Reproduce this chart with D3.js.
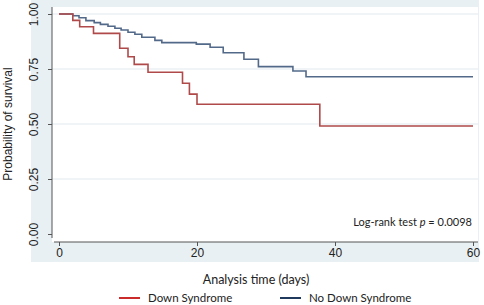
<!DOCTYPE html>
<html>
<head>
<meta charset="utf-8">
<script src="https://cdn.jsdelivr.net/npm/d3@7"></script>
<style>
  body { margin: 0; background: #fff; }
  svg { display: block; }
</style>
</head>
<body>
<div id="chart"></div>
<script>
// Kaplan-Meier step curves
const downTimes = [0, 2.0, 3.0, 5.0, 8.8, 10.0, 10.9, 12.9, 17.9, 18.9, 20.0, 37.8, 60];
const downSurv  = [1, 0.971, 0.942, 0.912, 0.844, 0.806, 0.771, 0.735, 0.685, 0.636, 0.59, 0.491, 0.491];

const noDownTimes = [0, 2.0, 2.9, 3.9, 5.1, 6.0, 7.1, 8.1, 9.0, 10.0, 11.0, 12.0, 13.9, 14.9, 19.9, 21.9, 23.8, 26.8, 28.9, 33.9, 35.8, 60];
const noDownSurv  = [1, 0.992, 0.983, 0.970, 0.961, 0.953, 0.944, 0.935, 0.927, 0.917, 0.908, 0.894, 0.880, 0.870, 0.863, 0.849, 0.824, 0.794, 0.761, 0.741, 0.715, 0.715];

const yTicks = [0, 0.25, 0.5, 0.75, 1];
const xTicks = [0, 20, 40, 60];
const groups = ['Down Syndrome', 'No Down Syndrome'];

const options = { width: 484, height: 305 };

const svg = d3.select('#chart')
  .append('svg')
  .attr('width', options.width)
  .attr('height', options.height);

// outer graph region and plot region
svg.append('rect')
  .attr('x', 31).attr('y', 0)
  .attr('width', 448).attr('height', 262)
  .attr('fill', '#e9f0f3');

svg.append('rect')
  .attr('x', 52).attr('y', 7)
  .attr('width', 426).attr('height', 235)
  .attr('fill', '#fff');

const x = d3.scaleLinear().domain([0, 60]).range([59, 473]);
const y = d3.scaleLinear().domain([0, 1]).range([234, 14]);

// grid lines
svg.append('g')
  .selectAll('line')
  .data(yTicks.filter(d => d > 0))
  .enter()
  .append('line')
  .attr('x1', 52).attr('x2', 478)
  .attr('y1', d => y(d)).attr('y2', d => y(d))
  .attr('stroke', '#e1e9ed')
  .attr('stroke-width', 1);

// y axis
const yAxis = svg.append('g')
  .attr('transform', 'translate(52,0)')
  .call(d3.axisLeft(y).tickValues(yTicks).tickFormat(d3.format('.2f')).tickSize(4).tickPadding(3));
yAxis.select('.domain').attr('d', 'M0,7V238').attr('stroke', '#555');
yAxis.selectAll('.tick line').attr('stroke', '#555');
yAxis.selectAll('.tick text')
  .attr('transform', 'rotate(-90)')
  .attr('x', 0)
  .attr('y', -14)
  .attr('dy', 0)
  .attr('text-anchor', 'middle')
  .attr('font-family', 'Liberation Sans, Arial, sans-serif')
  .attr('font-size', 12)
  .attr('fill', '#222');

// x axis
const xAxis = svg.append('g')
  .attr('transform', 'translate(0,242)')
  .call(d3.axisBottom(x).tickValues(xTicks).tickSize(4).tickPadding(2));
xAxis.select('.domain').attr('d', 'M54,0H478').attr('stroke', '#555');
xAxis.selectAll('.tick line').attr('stroke', '#555');
xAxis.selectAll('.tick text')
  .attr('font-family', 'Liberation Sans, Arial, sans-serif')
  .attr('font-size', 12)
  .attr('fill', '#222');

// axis titles
svg.append('text')
  .text('Probability of survival')
  .attr('transform', 'translate(12,124) rotate(-90)')
  .attr('text-anchor', 'middle')
  .attr('font-family', 'Liberation Sans, Arial, sans-serif')
  .attr('font-size', 12)
  .attr('fill', '#222');

svg.append('text')
  .text('Analysis time (days)')
  .attr('x', 256).attr('y', 284)
  .attr('text-anchor', 'middle')
  .attr('font-family', 'Lato, sans-serif')
  .attr('font-size', 12.5)
  .attr('fill', '#222');

// curves
const line = d3.line()
  .x(d => x(d[0]))
  .y(d => y(d[1]))
  .curve(d3.curveStepAfter);

svg.append('path')
  .attr('d', line(d3.zip(noDownTimes, noDownSurv)))
  .attr('fill', 'none')
  .attr('stroke', '#53698a')
  .attr('stroke-width', 1.6);

svg.append('path')
  .attr('d', line(d3.zip(downTimes, downSurv)))
  .attr('fill', 'none')
  .attr('stroke', '#b04a4a')
  .attr('stroke-width', 1.6);

// annotation
const note = svg.append('text')
  .attr('x', 472).attr('y', 226)
  .attr('text-anchor', 'end')
  .attr('font-family', 'Lato, sans-serif')
  .attr('font-size', 11)
  .attr('fill', '#222');
note.append('tspan').text('Log-rank test ');
note.append('tspan').text('p').attr('font-style', 'italic');
note.append('tspan').text(' = 0.0098');

// legend
const legendX = [119, 280];
const legendColors = ['#cc2b2b', '#1f3a5c'];
const legend = svg.selectAll('.legend')
  .data(groups)
  .enter()
  .append('g')
  .attr('class', 'legend')
  .attr('transform', (d, i) => `translate(${legendX[i]},298)`);

legend.append('line')
  .attr('x1', 0).attr('x2', 21)
  .attr('y1', 0).attr('y2', 0)
  .attr('stroke', (d, i) => legendColors[i])
  .attr('stroke-width', 2);

legend.append('text')
  .text(d => d)
  .attr('x', 29).attr('y', 4)
  .attr('font-family', 'Lato, sans-serif')
  .attr('font-size', 11.5)
  .attr('fill', '#222');
</script>
</body>
</html>
